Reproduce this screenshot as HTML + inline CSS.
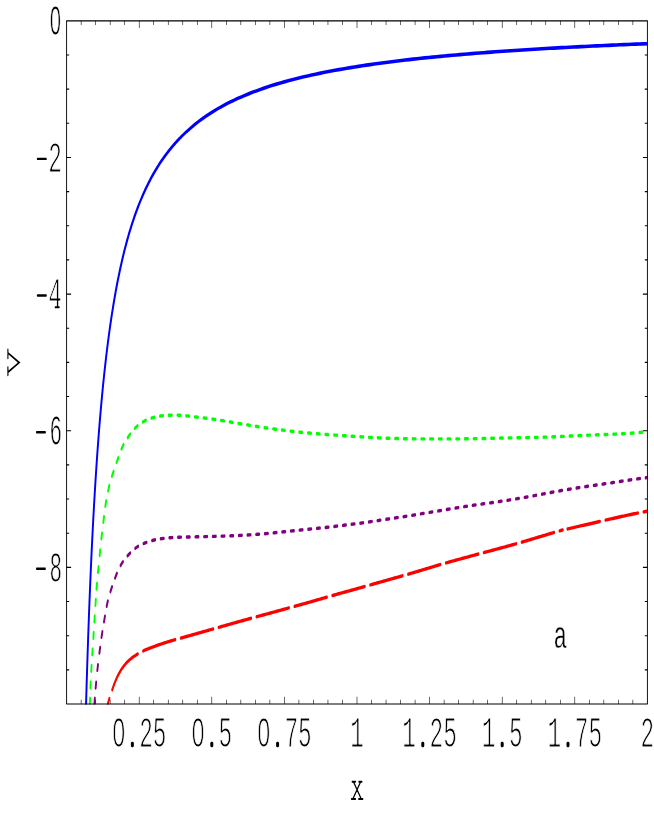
<!DOCTYPE html>
<html><head><meta charset="utf-8"><title>plot</title>
<style>html,body{margin:0;padding:0;background:#fff;}body{width:654px;height:817px;overflow:hidden;}svg{display:block;will-change:transform;}text{font-family:"Liberation Mono";font-size:43.73px;fill:#000;stroke:#fff;stroke-width:1.20px;stroke-linejoin:round;}</style>
</head><body>
<svg width="654" height="817" viewBox="0 0 654 817">
<rect width="654" height="817" fill="#fff"/>
<g transform="translate(61.30,35.00) scale(0.4524,1.035)"><text x="-26.24" y="0" xml:space="preserve" style="stroke-width:0.85px">0</text><rect x="-18.80" y="-18.80" width="10.93" height="8.31" fill="#fff"/></g>
<g transform="translate(62.00,171.74) scale(0.5200,1.000)"><text x="-52.48" y="0" xml:space="preserve"> 2</text><path d="M-47.05 -12.85 H-30.51" stroke="#000" stroke-width="2.45" stroke-linecap="round" fill="none"/></g>
<g transform="translate(62.00,308.38) scale(0.5200,1.000)"><text x="-52.48" y="0" xml:space="preserve"> 4</text><path d="M-47.05 -12.85 H-30.51" stroke="#000" stroke-width="2.45" stroke-linecap="round" fill="none"/><path d="M-13.04 -1.1 H-5.44" stroke="#000" stroke-width="2.0" stroke-linecap="round" fill="none"/></g>
<g transform="translate(62.00,445.32) scale(0.4784,1.020)"><text x="-52.48" y="0" xml:space="preserve" style="stroke-width:0.95px"> 6</text><path d="M-53.02 -12.85 H-35.05" stroke="#000" stroke-width="2.45" stroke-linecap="round" fill="none"/></g>
<g transform="translate(62.00,581.96) scale(0.4784,1.020)"><text x="-52.48" y="0" xml:space="preserve" style="stroke-width:0.95px"> 8</text><path d="M-53.02 -12.85 H-35.05" stroke="#000" stroke-width="2.45" stroke-linecap="round" fill="none"/></g>
<g transform="translate(139.20,747.10) scale(0.5200,1.000)"><text x="-52.48" y="0" xml:space="preserve">0 25</text><rect x="-45.04" y="-18.80" width="10.93" height="8.31" fill="#fff"/><rect x="-16.00" y="-5.40" width="5.77" height="5.60" rx="2.02" ry="1.68" fill="#000"/></g>
<g transform="translate(211.80,747.10) scale(0.5200,1.000)"><text x="-39.36" y="0" xml:space="preserve">0 5</text><rect x="-31.92" y="-18.80" width="10.93" height="8.31" fill="#fff"/><rect x="-2.88" y="-5.40" width="5.77" height="5.60" rx="2.02" ry="1.68" fill="#000"/></g>
<g transform="translate(284.40,747.10) scale(0.5200,1.000)"><text x="-52.48" y="0" xml:space="preserve">0 75</text><rect x="-45.04" y="-18.80" width="10.93" height="8.31" fill="#fff"/><rect x="-16.00" y="-5.40" width="5.77" height="5.60" rx="2.02" ry="1.68" fill="#000"/></g>
<g transform="translate(357.00,747.10) scale(0.5200,1.000)"><text x="-13.12" y="0" xml:space="preserve">1</text></g>
<g transform="translate(429.60,747.10) scale(0.5200,1.000)"><text x="-52.48" y="0" xml:space="preserve">1 25</text><rect x="-16.00" y="-5.40" width="5.77" height="5.60" rx="2.02" ry="1.68" fill="#000"/></g>
<g transform="translate(502.20,747.10) scale(0.5200,1.000)"><text x="-39.36" y="0" xml:space="preserve">1 5</text><rect x="-2.88" y="-5.40" width="5.77" height="5.60" rx="2.02" ry="1.68" fill="#000"/></g>
<g transform="translate(574.80,747.10) scale(0.5200,1.000)"><text x="-52.48" y="0" xml:space="preserve">1 75</text><rect x="-16.00" y="-5.40" width="5.77" height="5.60" rx="2.02" ry="1.68" fill="#000"/></g>
<g transform="translate(647.40,747.10) scale(0.5200,1.000)"><text x="-13.12" y="0" xml:space="preserve">2</text></g>
<g transform="translate(560.30,648.00) scale(0.5200,0.890)"><text x="-13.12" y="0" xml:space="preserve" style="stroke-width:0.50px">a</text></g>
<clipPath id="c"><rect x="66.60" y="20.80" width="580.80" height="683.80"/></clipPath>
<g>
<g clip-path="url(#c)" fill="none" stroke-linecap="round" stroke-linejoin="round">
<path d="M158.83 714.35 L160.34 686.06 L161.85 659.99 L163.35 635.88 L164.86 613.53 L166.37 592.74 L167.88 573.36 L169.39 555.25 L170.90 538.30 L172.41 522.38 L173.92 507.41 L175.43 493.32 L176.94 480.01 L178.45 467.43 L179.96 455.53 L181.47 444.24 L182.98 433.53 L184.49 423.34 L186.00 413.64 L187.51 404.40 L189.01 395.59 L190.52 387.17 L192.03 379.12 L193.54 371.41 L195.05 364.04 L196.56 356.96 L198.07 350.17 L199.58 343.65 L201.09 337.38 L202.60 331.36 L204.11 325.55 L205.62 319.96 L207.13 314.57 L208.64 309.38 L210.15 304.36 L211.66 299.51 L213.16 294.83 L214.67 290.30 L216.18 285.92 L217.69 281.68 L219.20 277.57 L220.71 273.59 L222.22 269.73 L223.73 265.99 L225.24 262.36 L226.75 258.83 L228.26 255.41 L229.77 252.08 L231.28 248.85 L232.79 245.70 L234.30 242.64 L235.81 239.67 L237.32 236.77 L238.82 233.95 L240.33 231.20 L241.84 228.52 L243.35 225.90 L244.86 223.36 L246.37 220.87 L247.88 218.45 L249.39 216.08 L250.90 213.77 L252.41 211.51 L253.92 209.31 L255.43 207.15 L256.94 205.05 L258.45 202.99 L259.96 200.98 L261.47 199.01 L262.97 197.08 L264.48 195.20 L265.99 193.35 L267.50 191.55 L269.01 189.78 L270.52 188.04 L272.03 186.35 L273.54 184.68 L275.05 183.05 L276.56 181.45 L278.07 179.89 L279.58 178.35 L281.09 176.84 L282.60 175.36 L284.11 173.91 L285.62 172.49 L287.13 171.09 L288.63 169.72 L290.14 168.37 L291.65 167.05 L293.16 165.75 L294.67 164.47 L296.18 163.22 L297.69 161.98 L299.20 160.77 L300.71 159.58 L302.22 158.41 L303.73 157.26 L305.24 156.13 L306.75 155.01 L308.26 153.92 L309.77 152.84 L311.28 151.78 L312.78 150.74 L314.29 149.71 L315.80 148.70 L317.31 147.70 L318.82 146.72 L320.33 145.76 L321.84 144.81 L323.35 143.87 L324.86 142.95 L326.37 142.04 L327.88 141.15 L329.39 140.27 L330.90 139.40 L332.41 138.54 L333.92 137.70 L335.43 136.86 L336.94 136.04 L338.44 135.24 L345.68 131.51 L352.91 128.03 L360.14 124.75 L367.37 121.67 L374.60 118.77 L381.83 116.03 L389.06 113.44 L396.29 110.98 L403.52 108.66 L410.75 106.45 L417.98 104.35 L425.21 102.34 L432.44 100.44 L439.67 98.62 L446.90 96.88 L454.13 95.21 L461.37 93.62 L468.60 92.10 L475.83 90.64 L483.06 89.23 L490.29 87.88 L497.52 86.59 L504.75 85.34 L511.98 84.14 L519.21 82.98 L526.44 81.87 L533.67 80.79 L540.90 79.75 L548.13 78.75 L555.36 77.78 L562.59 76.84 L569.82 75.93 L577.06 75.05 L584.29 74.20 L591.52 73.38 L598.75 72.58 L605.98 71.80 L613.21 71.05 L620.44 70.32 L627.67 69.61 L634.90 68.92 L642.13 68.25 L649.36 67.60 L656.59 66.96 L663.82 66.34 L671.05 65.74 L678.28 65.16 L685.51 64.59 L692.75 64.03 L699.98 63.49 L707.21 62.96 L714.44 62.44 L721.67 61.94 L728.90 61.45 L736.13 60.97 L743.36 60.50 L750.59 60.04 L757.82 59.60 L765.05 59.16 L772.28 58.73 L779.51 58.31 L786.74 57.91 L793.97 57.51 L801.20 57.11 L808.44 56.73 L815.67 56.36 L822.90 55.99 L830.13 55.63 L837.36 55.28 L844.59 54.93 L851.82 54.59 L859.05 54.26 L866.28 53.93 L873.51 53.61 L880.74 53.30 L887.97 52.99 L895.20 52.69 L902.43 52.40 L909.66 52.11 L916.89 51.82 L924.13 51.54 L931.36 51.27 L938.59 50.99 L945.82 50.73 L953.05 50.47 L960.28 50.21 L967.51 49.96 L974.74 49.71 L981.97 49.47 L989.20 49.23 L996.43 48.99 L1003.66 48.76 L1010.89 48.53 L1018.12 48.31 L1025.35 48.09 L1032.58 47.87 L1039.82 47.66 L1047.05 47.45 L1054.28 47.24 L1061.51 47.04 L1068.74 46.84 L1075.97 46.64 L1083.20 46.45 L1090.43 46.25 L1097.66 46.07 L1104.89 45.88 L1112.12 45.70 L1119.35 45.51 L1126.58 45.34 L1133.81 45.16 L1141.04 44.99 L1148.27 44.82 L1155.51 44.65 L1162.74 44.48 L1169.97 44.32 L1177.20 44.16 L1184.43 44.00 L1191.66 43.84 L1198.89 43.69" stroke="#0000ff" stroke-linecap="butt" transform="scale(0.5400,1)" stroke-width="3.60"/>
<path d="M160.53 704.07 160.56 703.51 160.68 701.51 160.79 699.51 160.87 698.28 M161.50 687.79 161.52 687.55 161.66 685.55 161.80 683.56 161.93 682.01 M162.91 671.25 162.97 670.63 163.18 668.64 163.39 666.65 163.52 665.48 M164.74 654.75 164.74 654.74 164.98 652.76 165.21 650.78 165.42 649.00 M166.67 638.27 166.71 637.88 166.94 635.90 167.16 633.91 167.32 632.51 M168.53 621.77 168.62 621.01 168.85 619.02 169.07 617.04 169.19 616.01 M170.41 605.28 170.43 605.13 170.65 603.15 170.88 601.16 171.06 599.52 M172.32 589.07 172.43 588.27 172.71 586.29 173.00 584.32 173.15 583.34 M174.99 572.45 175.16 571.52 175.51 569.56 175.86 567.59 176.01 566.75 M177.97 555.65 178.11 554.82 178.46 552.85 178.80 550.89 178.96 549.95 M181.00 538.88 181.15 538.13 181.55 536.18 181.96 534.22 182.18 533.21 M184.58 522.22 184.72 521.56 185.14 519.61 185.54 517.65 185.77 516.56 M188.09 506.34 188.18 505.98 188.71 504.06 189.27 502.15 189.69 500.78 M193.08 490.90 193.10 490.84 193.80 488.98 194.52 487.13 195.18 485.53 M199.90 476.27 200.28 475.63 201.29 473.94 202.31 472.25 202.85 471.36 M208.27 462.52 208.50 462.16 209.53 460.48 210.56 458.79 211.27 457.64 M216.99 449.02 217.07 448.91 218.28 447.36 219.53 445.86 220.63 444.65 M228.09 437.63 228.71 437.11 230.23 435.87 231.76 434.66 232.48 434.10 M240.87 428.34 241.33 428.06 243.01 427.12 244.71 426.23 245.80 425.69 M255.17 421.95 255.40 421.87 257.23 421.29 259.08 420.74 260.49 420.34 M270.29 418.11 271.20 417.94 273.08 417.62 274.97 417.33 275.77 417.21 M285.75 416.11 286.37 416.06 288.27 415.91 290.18 415.78 291.28 415.71 M301.30 415.26 301.62 415.25 303.53 415.20 305.44 415.17 306.84 415.14 M316.88 415.15 316.90 415.15 318.81 415.19 320.72 415.24 322.42 415.30 M332.44 415.79 333.12 415.83 335.02 415.95 336.93 416.07 337.97 416.14 M347.99 416.83 348.36 416.86 350.27 416.99 352.17 417.13 353.52 417.22 M363.53 417.90 363.60 417.90 365.51 418.03 367.42 418.17 369.06 418.28 M379.07 419.06 379.79 419.11 381.70 419.27 383.60 419.43 384.59 419.52 M394.59 420.40 395.02 420.44 396.92 420.62 398.82 420.79 400.11 420.92 M410.11 421.87 410.23 421.88 412.13 422.06 414.03 422.25 415.62 422.40 M425.62 423.37 426.39 423.45 428.30 423.63 430.20 423.81 431.14 423.90 M441.13 424.84 441.61 424.89 443.51 425.06 445.41 425.24 446.65 425.35 M456.65 426.26 456.83 426.27 458.73 426.44 460.63 426.61 462.17 426.74 M472.17 427.60 473.00 427.67 474.91 427.83 476.81 427.99 477.70 428.06 M487.70 428.86 488.23 428.90 490.14 429.05 492.04 429.19 493.23 429.29 M503.24 430.02 503.47 430.04 505.38 430.17 507.28 430.31 508.77 430.41 M518.79 431.09 519.67 431.14 521.57 431.27 523.48 431.39 524.32 431.44 M534.34 432.05 534.92 432.08 536.82 432.19 538.73 432.30 539.87 432.37 M549.89 432.91 550.17 432.93 552.08 433.02 553.99 433.12 555.43 433.19 M565.45 433.68 566.39 433.72 568.29 433.81 570.20 433.89 570.99 433.93 M581.01 434.36 581.65 434.39 583.56 434.47 585.46 434.55 586.55 434.59 M596.58 434.99 596.91 435.01 598.82 435.08 600.73 435.16 602.12 435.21 M612.15 435.60 612.18 435.60 614.09 435.67 616.00 435.75 617.68 435.81 M627.71 436.19 628.40 436.22 630.31 436.29 632.22 436.36 633.25 436.40 M643.28 436.77 643.67 436.79 645.58 436.86 647.48 436.92 648.82 436.97 M658.85 437.31 658.93 437.32 660.84 437.38 662.75 437.44 664.39 437.49 M674.42 437.79 675.16 437.81 677.07 437.87 678.98 437.92 679.96 437.94 M689.99 438.19 690.43 438.20 692.34 438.24 694.25 438.28 695.53 438.30 M705.57 438.48 705.70 438.48 707.61 438.51 709.52 438.54 711.11 438.56 M721.14 438.69 721.93 438.69 723.84 438.71 725.75 438.73 726.68 438.74 M736.72 438.82 737.21 438.82 739.12 438.83 741.03 438.84 742.26 438.85 M752.30 438.89 752.48 438.89 754.39 438.90 756.30 438.90 757.84 438.90 M767.87 438.92 768.72 438.92 770.62 438.92 772.53 438.92 773.41 438.92 M783.45 438.92 783.99 438.92 785.90 438.92 787.81 438.92 788.99 438.92 M799.03 438.90 799.27 438.90 801.18 438.90 803.09 438.89 804.57 438.89 M814.60 438.86 815.50 438.86 817.41 438.85 819.32 438.85 820.14 438.84 M830.18 438.79 830.77 438.79 832.68 438.78 834.59 438.77 835.72 438.76 M845.76 438.68 846.05 438.68 847.96 438.66 849.87 438.64 851.30 438.62 M861.33 438.51 862.28 438.50 864.19 438.48 866.10 438.45 866.87 438.44 M876.91 438.31 877.55 438.30 879.46 438.28 881.37 438.25 882.45 438.24 M892.49 438.10 892.83 438.10 894.74 438.07 896.65 438.05 898.03 438.03 M908.06 437.91 908.10 437.91 910.01 437.89 911.92 437.87 913.60 437.85 M923.64 437.75 924.33 437.74 926.24 437.72 928.15 437.71 929.18 437.70 M939.21 437.60 939.61 437.60 941.52 437.58 943.43 437.56 944.75 437.54 M954.79 437.42 954.88 437.42 956.79 437.40 958.70 437.37 960.33 437.35 M970.37 437.18 971.11 437.17 973.02 437.13 974.93 437.10 975.91 437.08 M985.94 436.86 986.39 436.85 988.29 436.81 990.20 436.76 991.48 436.73 M1001.51 436.48 1001.66 436.47 1003.57 436.42 1005.47 436.37 1007.05 436.33 M1017.08 436.05 1017.88 436.03 1019.79 435.98 1021.70 435.92 1022.62 435.90 M1032.66 435.62 1033.15 435.61 1035.06 435.56 1036.97 435.50 1038.19 435.47 M1048.23 435.21 1048.42 435.21 1050.33 435.16 1052.24 435.11 1053.77 435.08 M1063.80 434.85 1064.65 434.83 1066.56 434.79 1068.47 434.75 1069.34 434.73 M1079.38 434.52 1079.93 434.51 1081.83 434.47 1083.74 434.43 1084.91 434.40 M1094.95 434.18 1095.20 434.17 1097.11 434.13 1099.02 434.08 1100.49 434.04 M1110.52 433.76 1111.42 433.74 1113.33 433.68 1115.24 433.61 1116.06 433.59 M1126.09 433.22 1126.69 433.20 1128.60 433.12 1130.50 433.04 1131.63 432.99 M1141.65 432.50 1141.95 432.48 1143.86 432.38 1145.76 432.27 1147.18 432.18" stroke="#00ff00" transform="scale(0.5600,1)" stroke-width="3.40"/>
<path d="M168.70 704.04 168.75 703.51 168.95 701.52 169.17 699.54 169.32 698.28 M170.79 687.96 170.84 687.66 171.15 685.69 171.47 683.72 171.71 682.24 M173.83 670.45 173.92 669.96 174.31 668.00 174.70 666.05 174.96 664.77 M177.53 653.07 177.68 652.40 178.13 650.46 178.58 648.52 178.84 647.44 M181.30 637.33 181.42 636.89 181.93 634.97 182.46 633.04 182.82 631.75 M185.76 621.79 185.82 621.58 186.39 619.67 186.95 617.75 187.38 616.24 M190.47 606.33 190.80 605.39 191.51 603.54 192.26 601.70 192.58 600.97 M197.19 591.72 197.56 591.05 198.53 589.33 199.52 587.62 200.03 586.74 M205.52 578.04 205.82 577.60 206.93 575.97 208.07 574.35 208.79 573.36 M215.33 565.50 215.57 565.26 216.96 563.90 218.41 562.60 219.50 561.69 M227.75 555.85 227.86 555.79 229.51 554.76 231.17 553.76 232.55 552.95 M241.48 548.33 242.29 547.98 244.07 547.26 245.87 546.60 246.67 546.32 M256.29 543.61 256.94 543.45 258.81 543.02 260.68 542.61 261.71 542.39 M271.52 540.56 271.96 540.49 273.85 540.21 275.75 539.95 277.01 539.79 M286.93 538.78 287.15 538.77 289.06 538.62 290.96 538.48 292.45 538.38 M302.40 537.81 302.41 537.81 304.32 537.72 306.22 537.64 307.94 537.57 M317.90 537.26 318.63 537.24 320.54 537.20 322.45 537.16 323.44 537.15 M333.40 537.03 333.91 537.02 335.82 537.00 337.73 536.98 338.94 536.97 M348.91 536.85 349.20 536.85 351.11 536.82 353.02 536.80 354.45 536.78 M364.41 536.64 364.48 536.64 366.39 536.61 368.30 536.58 369.95 536.56 M379.92 536.41 380.71 536.40 382.62 536.37 384.53 536.34 385.46 536.32 M395.42 536.16 395.99 536.15 397.90 536.11 399.81 536.08 400.96 536.06 M410.92 535.85 411.27 535.85 413.18 535.80 415.09 535.76 416.46 535.73 M426.42 535.47 426.55 535.47 428.46 535.42 430.36 535.36 431.96 535.32 M441.92 535.00 442.78 534.97 444.68 534.90 446.59 534.83 447.46 534.80 M457.42 534.41 458.05 534.38 459.96 534.30 461.86 534.22 462.95 534.17 M472.91 533.70 473.31 533.68 475.22 533.58 477.13 533.48 478.44 533.41 M488.39 532.87 488.57 532.86 490.48 532.75 492.39 532.64 493.93 532.56 M503.87 531.96 504.79 531.91 506.69 531.79 508.60 531.68 509.41 531.63 M519.35 531.02 520.04 530.98 521.95 530.87 523.86 530.75 524.88 530.69 M534.83 530.11 535.30 530.08 537.21 529.97 539.11 529.86 540.37 529.79 M550.32 529.23 550.56 529.22 552.47 529.11 554.37 529.01 555.85 528.92 M565.80 528.38 565.82 528.38 567.73 528.27 569.63 528.17 571.33 528.07 M581.28 527.49 582.03 527.44 583.94 527.32 585.84 527.20 586.81 527.14 M596.76 526.47 597.28 526.43 599.19 526.29 601.09 526.16 602.29 526.07 M612.23 525.36 612.53 525.34 614.43 525.20 616.34 525.07 617.76 524.97 M627.70 524.29 627.77 524.28 629.68 524.15 631.59 524.02 633.23 523.91 M643.17 523.20 643.97 523.14 645.88 522.99 647.78 522.85 648.69 522.77 M658.63 521.97 659.21 521.92 661.12 521.76 663.02 521.60 664.15 521.50 M674.08 520.64 674.44 520.61 676.35 520.44 678.25 520.28 679.60 520.16 M689.53 519.29 689.67 519.28 691.57 519.12 693.48 518.95 695.06 518.82 M704.99 517.99 705.85 517.92 707.76 517.77 709.66 517.61 710.51 517.54 M720.45 516.71 721.09 516.65 722.99 516.49 724.90 516.32 725.97 516.23 M735.90 515.33 736.31 515.29 738.22 515.12 740.12 514.94 741.42 514.82 M751.34 513.88 751.53 513.86 753.44 513.68 755.34 513.50 756.86 513.36 M766.78 512.43 767.71 512.35 769.61 512.17 771.51 511.99 772.30 511.92 M782.23 510.99 782.93 510.93 784.83 510.75 786.73 510.57 787.75 510.48 M797.67 509.54 798.15 509.49 800.05 509.31 801.95 509.13 803.19 509.01 M813.11 508.08 813.37 508.05 815.27 507.88 817.17 507.70 818.63 507.57 M828.56 506.68 828.59 506.68 830.50 506.52 832.40 506.35 834.08 506.21 M844.02 505.37 844.78 505.31 846.68 505.15 848.58 505.00 849.54 504.92 M859.48 504.12 860.01 504.08 861.92 503.93 863.82 503.78 865.00 503.68 M874.94 502.89 875.25 502.87 877.15 502.72 879.06 502.56 880.46 502.45 M890.40 501.64 890.48 501.63 892.39 501.47 894.29 501.31 895.92 501.18 M905.85 500.32 906.67 500.25 908.57 500.08 910.47 499.91 911.37 499.83 M921.30 498.91 921.89 498.86 923.79 498.68 925.70 498.50 926.82 498.39 M936.74 497.42 937.11 497.39 939.01 497.20 940.91 497.01 942.25 496.87 M952.17 495.85 952.32 495.83 954.22 495.63 956.12 495.43 957.68 495.26 M967.59 494.19 968.47 494.10 970.37 493.89 972.27 493.69 973.11 493.60 M983.02 492.54 983.67 492.47 985.57 492.27 987.47 492.07 988.53 491.96 M998.45 490.97 998.88 490.92 1000.78 490.74 1002.69 490.55 1003.97 490.43 M1013.89 489.49 1014.10 489.47 1016.00 489.29 1017.90 489.11 1019.41 488.97 M1029.34 488.06 1030.27 487.98 1032.18 487.81 1034.08 487.64 1034.86 487.57 M1044.79 486.70 1045.50 486.64 1047.40 486.47 1049.31 486.31 1050.31 486.22 M1060.24 485.40 1060.73 485.36 1062.64 485.20 1064.54 485.05 1065.77 484.95 M1075.70 484.14 1075.97 484.12 1077.87 483.96 1079.78 483.80 1081.23 483.68 M1091.16 482.85 1091.20 482.85 1093.11 482.69 1095.01 482.52 1096.68 482.38 M1106.61 481.52 1107.38 481.46 1109.29 481.29 1111.19 481.13 1112.13 481.05 M1122.07 480.20 1122.61 480.15 1124.52 479.99 1126.42 479.83 1127.59 479.73 M1137.52 478.92 1137.85 478.89 1139.75 478.74 1141.66 478.59 1143.05 478.48 M1152.99 477.74 1153.09 477.73 1155.00 477.59 1156.90 477.46 1158.52 477.35" stroke="#800080" transform="scale(0.5600,1)" stroke-width="3.40"/>
<path d="M191.96 705.50 192.29 704.56 193.07 702.74 193.96 700.97 194.92 699.24 195.36 698.46 M200.44 689.76 200.90 689.01 201.94 687.33 202.99 685.66 204.07 684.01 205.19 682.39 206.34 680.79 207.53 679.23 208.76 677.69 210.03 676.20 211.34 674.73 212.69 673.31 214.07 671.93 215.50 670.60 216.96 669.30 218.46 668.06 219.99 666.86 221.56 665.70 223.15 664.60 224.78 663.54 226.43 662.52 228.10 661.56 229.80 660.64 231.52 659.77 233.26 658.94 235.01 658.15 236.78 657.39 238.57 656.67 240.36 655.98 242.17 655.32 243.98 654.67 245.80 654.05 246.21 653.91 M255.56 651.03 255.88 650.94 257.72 650.45 259.58 649.97 261.44 649.52 263.30 649.08 265.17 648.66 267.04 648.25 268.91 647.85 270.78 647.46 272.66 647.07 274.53 646.68 276.40 646.29 278.28 645.91 280.15 645.53 282.03 645.15 283.90 644.78 285.78 644.41 287.66 644.05 289.54 643.69 291.42 643.33 293.30 642.99 295.18 642.65 297.06 642.31 298.94 641.98 300.83 641.66 302.71 641.34 304.60 641.03 306.48 640.71 308.37 640.41 310.26 640.10 312.15 639.80 313.18 639.63 M322.81 638.10 323.48 637.99 325.36 637.70 327.25 637.40 329.14 637.10 331.03 636.80 332.92 636.50 334.80 636.20 336.69 635.90 338.58 635.61 340.47 635.31 342.36 635.01 344.25 634.71 346.13 634.41 348.02 634.11 349.91 633.81 351.80 633.51 353.69 633.21 355.57 632.91 357.46 632.61 359.35 632.31 361.24 632.01 363.12 631.71 365.01 631.41 366.90 631.11 368.79 630.81 370.68 630.51 372.56 630.21 374.45 629.91 376.34 629.61 378.23 629.31 380.12 629.01 380.81 628.90 M390.44 627.37 390.50 627.36 392.39 627.06 394.28 626.76 396.16 626.46 398.05 626.16 399.94 625.86 401.83 625.56 403.72 625.26 405.60 624.96 407.49 624.67 409.38 624.37 411.27 624.07 413.16 623.77 415.05 623.47 416.93 623.18 418.82 622.88 420.71 622.58 422.60 622.28 424.49 621.99 426.38 621.69 428.26 621.39 430.15 621.10 432.04 620.80 433.93 620.51 435.82 620.21 437.71 619.92 439.60 619.63 441.49 619.33 443.37 619.04 445.26 618.75 447.15 618.46 448.45 618.26 M458.09 616.78 458.49 616.72 460.38 616.43 462.27 616.15 464.16 615.86 466.05 615.57 467.94 615.28 469.83 615.00 471.72 614.71 473.61 614.42 475.50 614.14 477.39 613.85 479.28 613.56 481.17 613.28 483.06 612.99 484.95 612.70 486.84 612.41 488.73 612.12 490.61 611.83 492.50 611.54 494.39 611.25 496.28 610.96 498.17 610.67 500.06 610.38 501.95 610.08 503.84 609.79 505.73 609.50 507.62 609.21 509.51 608.91 511.39 608.62 513.28 608.33 515.17 608.03 516.13 607.88 M525.77 606.38 526.51 606.26 528.39 605.97 530.28 605.67 532.17 605.38 534.06 605.08 535.95 604.79 537.84 604.49 539.73 604.20 541.61 603.90 543.50 603.60 545.39 603.31 547.28 603.01 549.17 602.71 551.06 602.41 552.94 602.11 554.83 601.81 556.72 601.51 558.61 601.21 560.50 600.91 562.38 600.61 564.27 600.30 566.16 600.00 568.04 599.69 569.93 599.39 571.82 599.08 573.71 598.77 575.59 598.46 577.48 598.16 579.37 597.85 581.25 597.54 583.14 597.23 583.76 597.13 M593.39 595.57 593.52 595.55 595.41 595.25 597.29 594.95 599.18 594.65 601.07 594.35 602.96 594.05 604.85 593.76 606.74 593.46 608.62 593.17 610.51 592.88 612.40 592.59 614.29 592.29 616.18 592.00 618.07 591.71 619.96 591.42 621.85 591.13 623.74 590.84 625.63 590.55 627.52 590.25 629.40 589.96 631.29 589.67 633.18 589.37 635.07 589.07 636.96 588.78 638.85 588.48 640.74 588.18 642.62 587.88 644.51 587.58 646.40 587.28 648.29 586.97 650.17 586.67 651.40 586.48 M661.03 584.93 661.50 584.86 663.39 584.56 665.28 584.26 667.16 583.96 669.05 583.65 670.94 583.35 672.83 583.05 674.72 582.75 676.60 582.45 678.49 582.15 680.38 581.86 682.27 581.56 684.16 581.26 686.04 580.96 687.93 580.66 689.82 580.37 691.71 580.07 693.60 579.77 695.49 579.48 697.37 579.18 699.26 578.88 701.15 578.59 703.04 578.29 704.93 578.00 706.82 577.70 708.71 577.40 710.59 577.11 712.48 576.81 714.37 576.51 716.26 576.21 718.15 575.91 719.04 575.77 M728.67 574.22 729.47 574.09 731.36 573.78 733.24 573.47 735.13 573.16 737.02 572.84 738.90 572.53 740.79 572.22 742.67 571.90 744.56 571.59 746.45 571.27 748.33 570.96 750.22 570.64 752.10 570.32 753.99 570.00 755.87 569.68 757.76 569.37 759.64 569.05 761.53 568.73 763.41 568.41 765.30 568.09 767.18 567.77 769.07 567.45 770.95 567.13 772.84 566.81 774.72 566.50 776.61 566.18 778.49 565.86 780.38 565.55 782.27 565.24 784.15 564.92 786.04 564.61 786.59 564.52 M796.22 562.96 796.42 562.93 798.31 562.63 800.19 562.33 802.08 562.03 803.97 561.74 805.86 561.44 807.75 561.15 809.64 560.85 811.53 560.56 813.42 560.27 815.30 559.98 817.19 559.69 819.08 559.40 820.97 559.11 822.86 558.83 824.75 558.54 826.64 558.25 828.53 557.96 830.42 557.67 832.31 557.38 834.20 557.09 836.09 556.81 837.98 556.52 839.87 556.23 841.76 555.94 843.65 555.65 845.54 555.36 847.43 555.08 849.32 554.79 851.21 554.50 853.10 554.21 854.26 554.04 M863.90 552.58 864.44 552.50 866.33 552.22 868.22 551.94 870.11 551.65 872.00 551.37 873.89 551.09 875.78 550.81 877.67 550.52 879.56 550.24 881.45 549.96 883.34 549.68 885.23 549.39 887.12 549.11 889.01 548.82 890.90 548.54 892.79 548.25 894.68 547.97 896.57 547.68 898.46 547.39 900.35 547.10 902.24 546.81 904.13 546.52 906.02 546.23 907.91 545.94 909.80 545.64 911.68 545.35 913.57 545.05 915.46 544.75 917.35 544.45 919.24 544.15 921.13 543.85 921.94 543.72 M931.57 542.16 932.45 542.01 934.33 541.70 936.22 541.39 938.11 541.08 939.99 540.77 941.88 540.46 943.76 540.14 945.65 539.83 947.54 539.51 949.42 539.20 951.31 538.88 953.19 538.56 955.08 538.25 956.96 537.93 958.85 537.61 960.73 537.30 962.62 536.98 964.51 536.66 966.39 536.34 968.28 536.03 970.16 535.71 972.05 535.39 973.93 535.07 975.82 534.76 977.70 534.44 979.59 534.12 981.47 533.80 983.36 533.49 985.24 533.17 987.13 532.85 989.02 532.54 989.50 532.46 M999.12 530.86 999.39 530.81 1001.28 530.50 1003.16 530.20 1005.05 529.89 M1013.23 528.98 1014.17 528.85 1016.06 528.60 1017.95 528.35 1019.84 528.10 1021.73 527.86 1023.62 527.61 1025.51 527.36 1027.40 527.12 1029.29 526.88 1031.18 526.63 1033.07 526.39 1034.96 526.15 1036.85 525.91 1038.74 525.67 1040.63 525.43 1042.52 525.19 1044.41 524.95 1046.30 524.71 1048.19 524.46 1050.08 524.22 1051.97 523.98 1053.86 523.73 1055.75 523.49 1057.64 523.24 1059.53 522.99 1061.42 522.75 1063.30 522.50 1065.19 522.25 1067.08 522.00 1068.97 521.75 1070.86 521.50 1071.44 521.43 M1081.11 520.16 1081.25 520.14 1083.14 519.89 1085.03 519.65 1086.92 519.41 1088.81 519.16 1090.70 518.92 1092.59 518.68 1094.48 518.44 1096.37 518.20 1098.26 517.96 1100.15 517.72 1102.04 517.48 1103.93 517.25 1105.83 517.01 1107.72 516.78 1109.61 516.54 1111.50 516.31 1113.39 516.08 1115.28 515.85 1117.17 515.62 1119.06 515.39 1120.96 515.16 1122.85 514.93 1124.74 514.71 1126.63 514.48 1128.52 514.26 1130.42 514.03 1132.31 513.81 1134.20 513.59 1136.09 513.37 1137.99 513.16 1139.37 513.00 M1149.06 511.92 1149.35 511.89 1151.24 511.69 1153.13 511.48 1155.03 511.28 1156.92 511.09 1158.82 510.89 1160.71 510.70" stroke="#ff0000" transform="scale(0.5600,1)" stroke-width="3.40"/>
</g>
</g>
<g transform="scale(0.5350,1)">
<path d="M124.49 20.80 H1210.09 M124.49 704.00 H1210.09" stroke="#000" stroke-width="1.2" stroke-linecap="square" fill="none"/>
<path d="M124.49 20.80 V704.00 M1210.09 20.80 V704.00" stroke="#000" stroke-width="1.7" fill="none"/>
<path d="M151.63 704.00 v-4.30 M151.63 20.80 v4.30 M178.77 704.00 v-4.30 M178.77 20.80 v4.30 M205.91 704.00 v-4.30 M205.91 20.80 v4.30 M233.05 704.00 v-4.30 M233.05 20.80 v4.30 M260.19 704.00 v-7.30 M260.19 20.80 v7.30 M287.33 704.00 v-4.30 M287.33 20.80 v4.30 M314.47 704.00 v-4.30 M314.47 20.80 v4.30 M341.61 704.00 v-4.30 M341.61 20.80 v4.30 M368.75 704.00 v-4.30 M368.75 20.80 v4.30 M395.89 704.00 v-7.30 M395.89 20.80 v7.30 M423.03 704.00 v-4.30 M423.03 20.80 v4.30 M450.17 704.00 v-4.30 M450.17 20.80 v4.30 M477.31 704.00 v-4.30 M477.31 20.80 v4.30 M504.45 704.00 v-4.30 M504.45 20.80 v4.30 M531.59 704.00 v-7.30 M531.59 20.80 v7.30 M558.73 704.00 v-4.30 M558.73 20.80 v4.30 M585.87 704.00 v-4.30 M585.87 20.80 v4.30 M613.01 704.00 v-4.30 M613.01 20.80 v4.30 M640.15 704.00 v-4.30 M640.15 20.80 v4.30 M667.29 704.00 v-7.30 M667.29 20.80 v7.30 M694.43 704.00 v-4.30 M694.43 20.80 v4.30 M721.57 704.00 v-4.30 M721.57 20.80 v4.30 M748.71 704.00 v-4.30 M748.71 20.80 v4.30 M775.85 704.00 v-4.30 M775.85 20.80 v4.30 M802.99 704.00 v-7.30 M802.99 20.80 v7.30 M830.13 704.00 v-4.30 M830.13 20.80 v4.30 M857.27 704.00 v-4.30 M857.27 20.80 v4.30 M884.41 704.00 v-4.30 M884.41 20.80 v4.30 M911.55 704.00 v-4.30 M911.55 20.80 v4.30 M938.69 704.00 v-7.30 M938.69 20.80 v7.30 M965.83 704.00 v-4.30 M965.83 20.80 v4.30 M992.97 704.00 v-4.30 M992.97 20.80 v4.30 M1020.11 704.00 v-4.30 M1020.11 20.80 v4.30 M1047.25 704.00 v-4.30 M1047.25 20.80 v4.30 M1074.39 704.00 v-7.30 M1074.39 20.80 v7.30 M1101.53 704.00 v-4.30 M1101.53 20.80 v4.30 M1128.67 704.00 v-4.30 M1128.67 20.80 v4.30 M1155.81 704.00 v-4.30 M1155.81 20.80 v4.30 M1182.95 704.00 v-4.30 M1182.95 20.80 v4.30 M124.49 54.96 h4.80 M1210.09 54.96 h-4.80 M124.49 89.12 h4.80 M1210.09 89.12 h-4.80 M124.49 123.28 h4.80 M1210.09 123.28 h-4.80 M124.49 157.44 h8.40 M1210.09 157.44 h-8.40 M124.49 191.60 h4.80 M1210.09 191.60 h-4.80 M124.49 225.76 h4.80 M1210.09 225.76 h-4.80 M124.49 259.92 h4.80 M1210.09 259.92 h-4.80 M124.49 294.08 h8.40 M1210.09 294.08 h-8.40 M124.49 328.24 h4.80 M1210.09 328.24 h-4.80 M124.49 362.40 h4.80 M1210.09 362.40 h-4.80 M124.49 396.56 h4.80 M1210.09 396.56 h-4.80 M124.49 430.72 h8.40 M1210.09 430.72 h-8.40 M124.49 464.88 h4.80 M1210.09 464.88 h-4.80 M124.49 499.04 h4.80 M1210.09 499.04 h-4.80 M124.49 533.20 h4.80 M1210.09 533.20 h-4.80 M124.49 567.36 h8.40 M1210.09 567.36 h-8.40 M124.49 601.52 h4.80 M1210.09 601.52 h-4.80 M124.49 635.68 h4.80 M1210.09 635.68 h-4.80 M124.49 669.84 h4.80 M1210.09 669.84 h-4.80" stroke="#000" stroke-width="1.1" fill="none"/>
<path d="M660.56 781.70 L675.14 798.90 M674.21 781.70 L659.63 798.90 M658.32 781.70 L664.49 781.70 M670.84 781.70 L676.45 781.70 M657.01 798.90 L664.49 798.90 M670.47 798.90 L678.13 798.90" stroke="#000" stroke-width="2.0" stroke-linecap="round" stroke-linejoin="round" fill="none"/>
<path d="M14.77 352.90 L35.70 362.60 L14.77 372.20 M14.77 349.60 L14.77 358.20 M14.77 367.20 L14.77 375.30" stroke="#000" stroke-width="2.1" stroke-linecap="round" stroke-linejoin="miter" fill="none"/>
</g>
</svg></body></html>
